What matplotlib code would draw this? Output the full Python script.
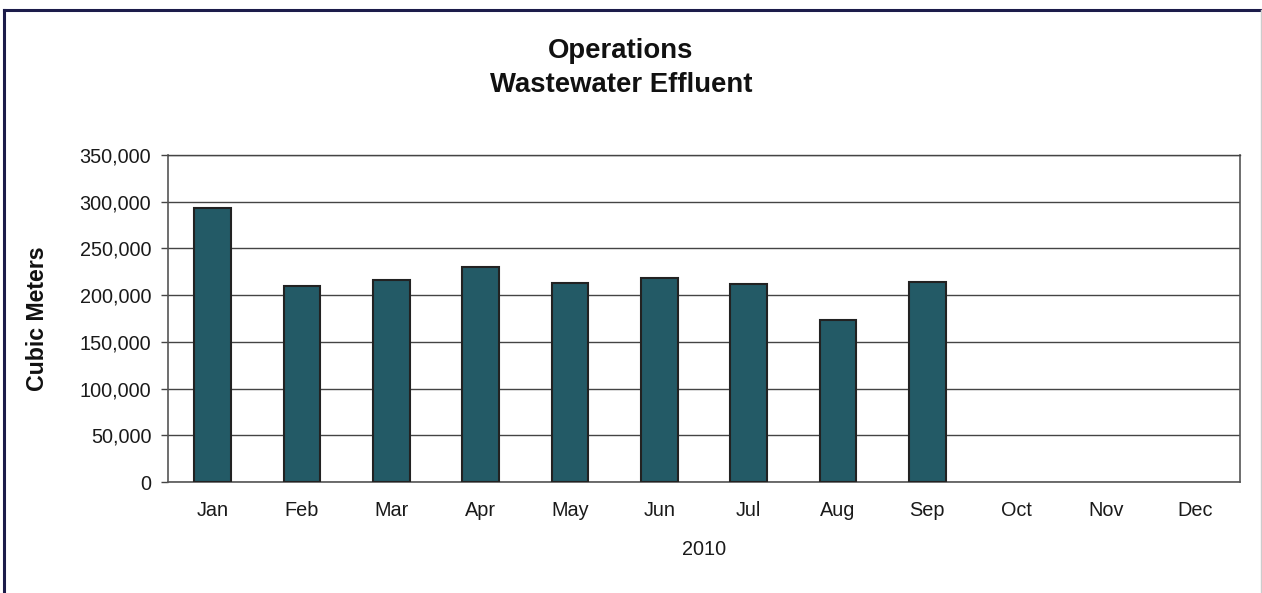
import matplotlib.pyplot as plt
from matplotlib.lines import Line2D
from matplotlib.ticker import FuncFormatter

plt.rcParams['font.family'] = ['Liberation Sans', 'DejaVu Sans']

months = ['Jan', 'Feb', 'Mar', 'Apr', 'May', 'Jun', 'Jul', 'Aug', 'Sep', 'Oct', 'Nov', 'Dec']
# cubic meters per month (Oct-Dec not reported)
effluent = [293300, 210100, 215900, 230100, 213300, 218300, 212200, 173100, 214100]
yticks = [0, 50000, 100000, 150000, 200000, 250000, 300000, 350000]

fig = plt.figure(figsize=(12.62, 5.93), dpi=100)
ax = fig.add_axes([168 / 1262, 111 / 593, 1072 / 1262, 327 / 593])

x = list(range(len(months)))
ax.bar(x[:len(effluent)], effluent, width=0.41, color='#235a66',
       edgecolor='#222222', linewidth=1.5, zorder=3)

ax.set_xlim(-0.5, len(months) - 0.5)
ax.set_ylim(0, 350000)
ax.set_yticks(yticks)
ax.yaxis.set_major_formatter(FuncFormatter(lambda v, p: f'{int(v):,}'))
ax.set_xticks(x)
ax.set_xticklabels(months)
ax.tick_params(axis='x', length=0, pad=14, labelsize=14.3, labelcolor='#1a1a1a')
ax.tick_params(axis='y', length=5, width=1, color='#444444', pad=7,
               labelsize=14.3, labelcolor='#1a1a1a')
ax.grid(axis='y', color='#444444', linewidth=1, zorder=0)

for side in ['left', 'bottom', 'right']:
    ax.spines[side].set_color('#555555')
    ax.spines[side].set_linewidth(1.2)
ax.spines['top'].set_color('#444444')
ax.spines['top'].set_linewidth(1)

ax.set_xlabel('2010', fontsize=14.3, color='#1a1a1a', labelpad=14)
ax.set_ylabel('Cubic Meters', fontsize=16.7, fontweight='bold', color='#111111', labelpad=22)

fig.text(0.492, 0.914, 'Operations', ha='center', va='center',
         fontsize=19.8, fontweight='bold', color='#111111')
fig.text(0.492, 0.857, 'Wastewater Effluent', ha='center', va='center',
         fontsize=19.8, fontweight='bold', color='#111111')

# outer frame
fig.add_artist(Line2D([4 / 1262, 1], [583 / 593, 583 / 593], transform=fig.transFigure,
                      color='#1c1c4a', linewidth=2.2))
fig.add_artist(Line2D([4 / 1262, 4 / 1262], [0, 583 / 593], transform=fig.transFigure,
                      color='#1c1c4a', linewidth=2.2))
fig.add_artist(Line2D([1260.5 / 1262, 1260.5 / 1262], [0, 583 / 593], transform=fig.transFigure,
                      color='#cccccc', linewidth=1))

fig.savefig('out.png', dpi=100)
